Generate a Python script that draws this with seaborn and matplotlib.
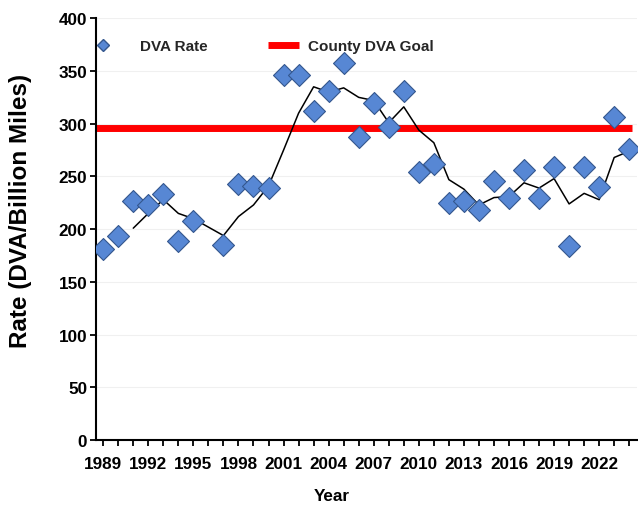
import numpy as np
import pandas as pd
import seaborn as sns
import matplotlib.pyplot as plt
from matplotlib.lines import Line2D

# Data (1996 has no value)
years = list(range(1989, 2025))
dva_rate = [181, 194, 227, 223, 233, 189, 208, np.nan, 185, 243,
            241, 239, 346, 346, 312, 331, 358, 287, 320, 297,
            331, 254, 262, 225, 227, 218, 246, 230, 256, 230,
            259, 184, 259, 240, 306, 276]
# black trend line (3 year moving average as drawn on the chart)
trend = [np.nan, np.nan, 201, 215, 228, 215, 210, np.nan, 194, 212,
         223, 241, 275, 310, 335, 330, 334, 325, 322, 301,
         316, 294, 282, 247, 238, 223, 230, 231, 244, 239,
         248, 224, 234, 228, 268, 274]
goal = 296
label_years = list(range(1989, 2023, 3))

df = pd.DataFrame({"year": years, "rate": dva_rate, "trend": trend})

sns.set_theme(style="white")
plt.rcParams['font.family'] = ['Liberation Sans', 'DejaVu Sans']
plt.rcParams['font.weight'] = 'bold'

fig = plt.figure(figsize=(6.38, 5.06), dpi=100)
ax = fig.add_axes([0.150, 0.128, 0.848, 0.834])

# faint horizontal grid
for v in range(50, 401, 50):
    ax.axhline(v, color='#f0f0f0', lw=0.8, zorder=0)

# goal line
ax.plot([1988.5, 2024.2], [goal, goal], color='#ff0000', lw=5, zorder=1,
        solid_capstyle='butt')

# trend line
sns.lineplot(data=df.dropna(subset=['trend']), x='year', y='trend', ax=ax,
             color='black', lw=1.1, zorder=2)

# points
sns.scatterplot(data=df, x='year', y='rate', ax=ax, marker='D', s=125,
                color='#5787d4', edgecolor='#34578e', linewidth=0.8, zorder=3)

ax.set_xlim(1988.5, 2024.5)
ax.set_ylim(0, 400)
ax.set_yticks(range(0, 401, 50))
ax.set_xticks(label_years)
ax.set_xticks(years, minor=True)
ax.set_xticklabels([str(y) for y in label_years])

for side in ['top', 'right']:
    ax.spines[side].set_visible(False)
for side in ['left', 'bottom']:
    ax.spines[side].set_color('black')
    ax.spines[side].set_linewidth(1.5)

ax.tick_params(axis='both', which='both', direction='out', length=4, width=1.3,
               color='black', labelsize=12.3, labelcolor='black')
ax.tick_params(axis='x', which='both', pad=7, bottom=True)
ax.tick_params(axis='y', pad=2, left=True)
for lbl in ax.get_xticklabels() + ax.get_yticklabels():
    lbl.set_fontweight('bold')

ax.set_xlabel('Year', fontsize=12.3, fontweight='bold', color='black')
ax.xaxis.set_label_coords(0.437, -0.113)
ax.set_ylabel('Rate (DVA/Billion Miles)', fontsize=17.5, fontweight='bold', color='black')
ax.yaxis.set_label_coords(-0.118, 0.546)

# legend, two separate entries like the original
h1 = Line2D([], [], marker='D', color='#5787d4', markeredgecolor='#34578e',
            markersize=6, linestyle='none')
h2 = Line2D([], [], color='#ff0000', lw=5, solid_capstyle='butt')
leg1 = ax.legend([h1], ['DVA Rate'], loc='center left', frameon=False,
                 bbox_to_anchor=(95.5 / 638, 1 - 47 / 506), bbox_transform=fig.transFigure,
                 handlelength=1.0, handletextpad=1.9, borderpad=0, borderaxespad=0,
                 prop={'size': 11, 'weight': 'bold'})
ax.add_artist(leg1)
ax.legend([h2], ['County DVA Goal'], loc='center left', frameon=False,
          bbox_to_anchor=(268 / 638, 1 - 47 / 506), bbox_transform=fig.transFigure,
          handlelength=2.0, handletextpad=0.6, borderpad=0, borderaxespad=0,
          prop={'size': 11, 'weight': 'bold'})

fig.savefig('out.png', dpi=100)
